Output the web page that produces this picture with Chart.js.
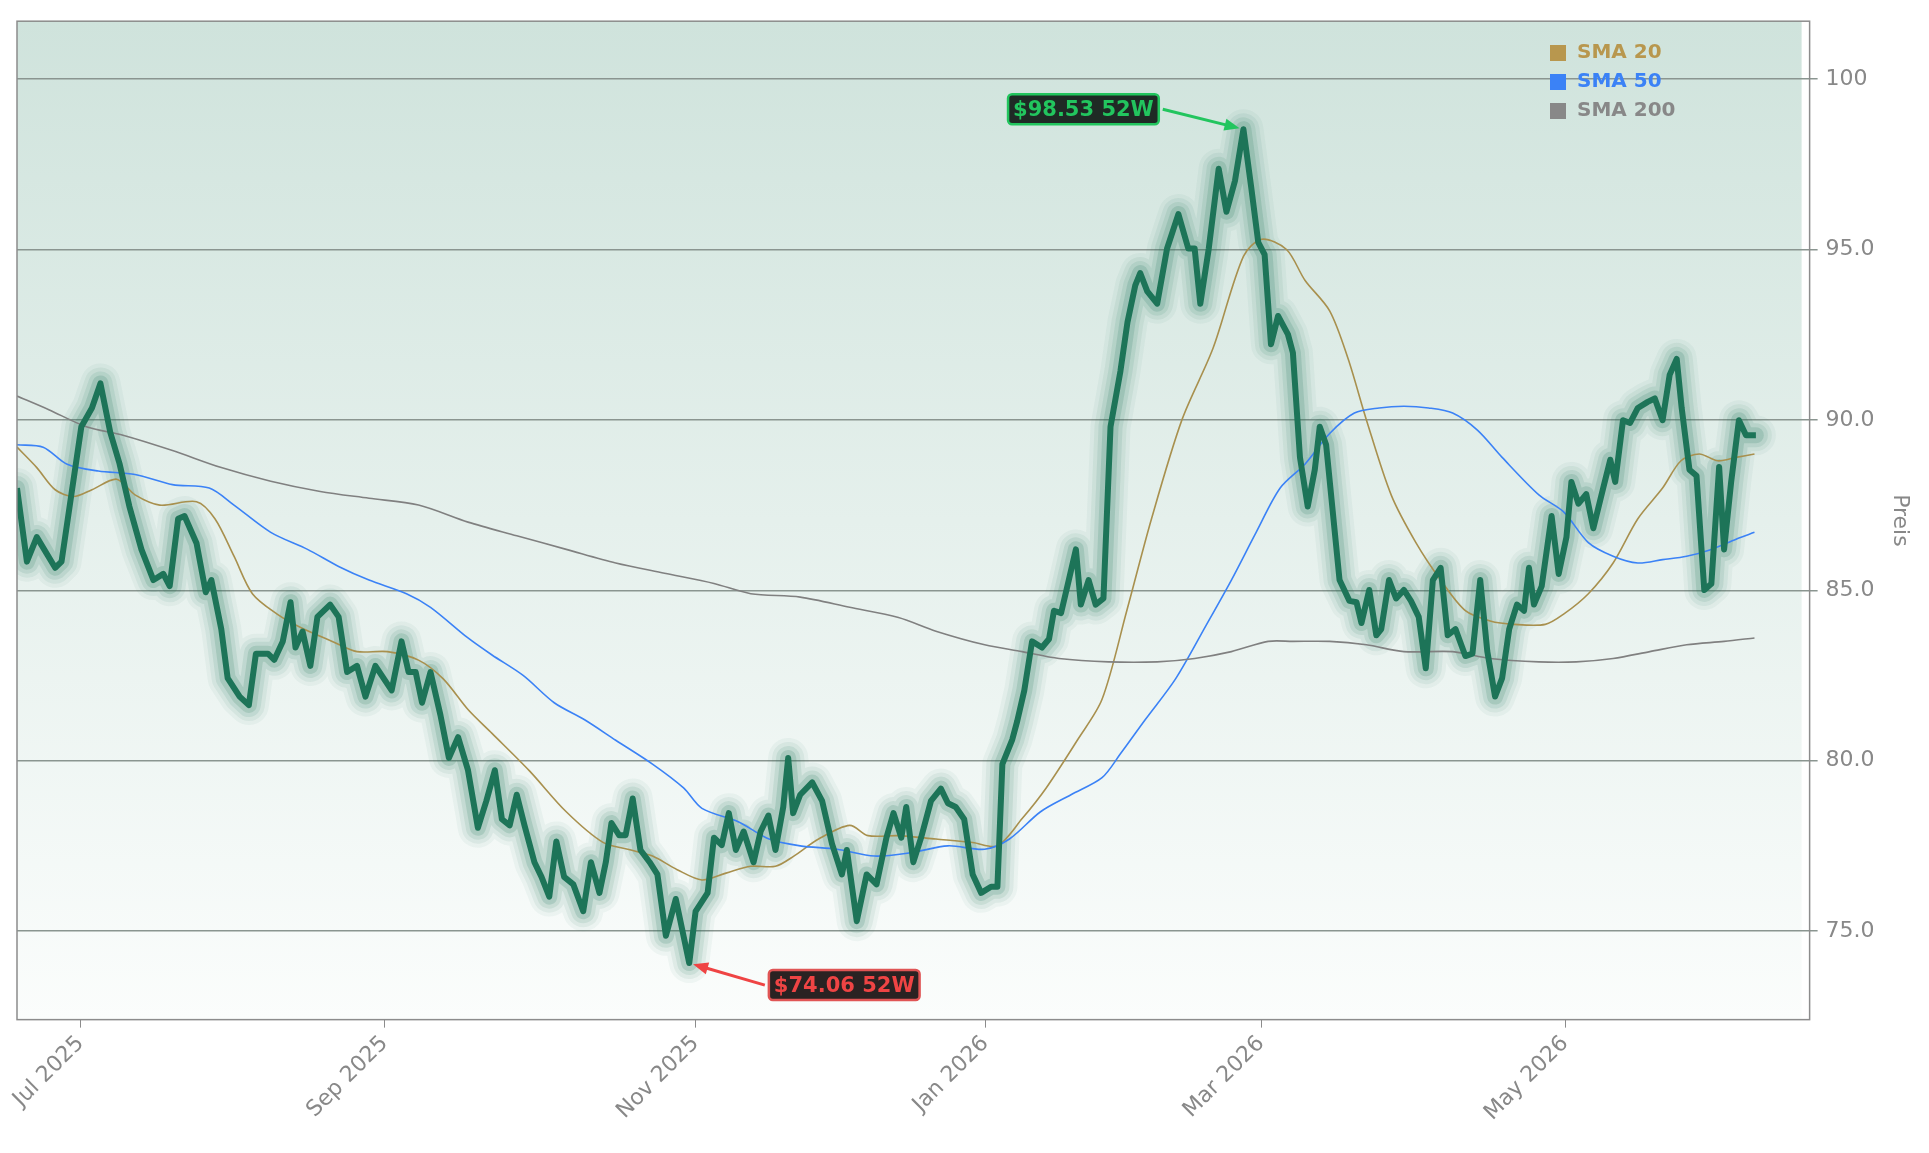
<!DOCTYPE html>
<html><head><meta charset="utf-8">
<script src="https://cdn.jsdelivr.net/npm/chart.js@4/dist/chart.umd.min.js"></script>
<style>html,body{margin:0;padding:0;background:#fff;}#wrap{width:1929px;height:1153px;}</style>
</head><body><div id="wrap"><canvas id="c"></canvas></div>
<script>
// trading calendar
const startDate = '2025-06-17';
const holidays = ['2025-06-19','2025-07-04','2025-09-01','2025-11-27','2025-12-25','2026-01-01','2026-01-19','2026-02-16','2026-04-03','2026-05-25','2026-06-19'];
const tickMonths = ['2025-07','2025-09','2025-11','2026-01','2026-03','2026-05'];
const tickLabels = ['Jul 2025','Sep 2025','Nov 2025','Jan 2026','Mar 2026','May 2026'];

// price (trading-day index, close)
const priceIdx = [0,1.4,2.8,5.4,6.3,7.7,9.1,10.6,11.8,13.2,14.5,15.9,17.6,19.3,20.7,21.6,22.8,23.7,25.4,26.7,27.5,28.9,29.8,31.5,32.8,33.8,35.5,36.4,37.6,38.7,39.4,40.4,41.5,42.5,44.3,45.5,46.7,48.1,49.3,50.7,53.0,54.4,55.4,56.4,57.3,58.5,59.9,61.1,62.4,63.8,65.2,66.4,67.6,68.6,69.7,70.7,71.8,73.2,74.2,75.3,76.3,77.4,78.7,80.1,81.2,82.4,83.3,84.1,85.2,86.1,87.1,88.2,89.5,90.6,91.8,93.2,95.1,96.0,97.7,98.6,99.7,100.7,101.7,102.8,104.2,105.2,106.3,107.3,108.4,109.1,109.8,110.8,112.5,113.9,115.3,116.7,117.4,118.8,120.2,121.6,123.0,124.0,125.1,125.8,126.8,127.9,129.3,130.7,131.7,132.8,134.0,135.2,136.4,137.8,138.7,139.4,140.8,141.5,142.5,143.6,145.0,146.0,146.7,147.7,148.8,149.8,150.5,151.6,152.6,153.7,154.7,156.1,157.1,158.2,158.9,159.9,161.3,162.7,164.3,165.7,166.6,167.4,168.6,170.0,171.1,172.3,173.5,174.6,175.6,176.5,177.4,178.4,179.8,180.5,181.5,182.6,183.6,184.3,185.2,187.1,188.5,189.5,190.2,191.3,192.3,193.0,194.1,195.1,196.2,197.2,198.3,199.3,200.3,201.4,202.4,203.5,204.9,205.9,207.0,208.0,209.1,210.1,211.1,212.2,213.2,213.9,214.6,215.7,217.1,218.1,219.2,219.9,220.9,222.0,223.0,224.4,225.4,226.1,227.2,228.2,229.3,230.7,231.7,232.8,233.8,234.8,235.5,236.6,237.6,238.7,239.7,240.8,241.5,242.5,243.6,244.6,246.0];
const priceVal = [88.0,85.84,86.56,85.66,85.84,87.82,89.8,90.35,91.07,89.63,88.72,87.46,86.2,85.3,85.48,85.12,87.1,87.18,86.38,84.94,85.3,83.86,82.42,81.88,81.63,83.14,83.14,82.96,83.5,84.65,83.32,83.79,82.78,84.22,84.58,84.22,82.6,82.78,81.88,82.78,82.06,83.5,82.6,82.6,81.7,82.6,81.34,80.08,80.69,79.72,78.03,78.82,79.72,78.28,78.1,79.0,78.1,77.02,76.59,76.01,77.63,76.59,76.37,75.58,77.02,76.12,77.02,78.17,77.81,77.81,78.89,77.38,77.02,76.66,74.86,75.94,74.06,75.58,76.12,77.74,77.52,78.46,77.38,77.92,77.02,77.92,78.39,77.38,78.64,80.08,78.46,79.0,79.36,78.82,77.56,76.66,77.38,75.29,76.66,76.37,77.74,78.46,77.74,78.64,77.02,77.74,78.82,79.18,78.75,78.64,78.28,76.66,76.12,76.3,76.3,79.9,80.62,81.16,82.06,83.5,83.32,83.57,84.4,84.33,85.3,86.2,84.58,85.3,84.58,84.76,89.8,91.43,92.87,93.95,94.31,93.77,93.41,95.03,96.04,95.03,95.03,93.41,95.03,97.37,96.11,97.01,98.53,96.83,95.21,94.85,92.22,93.05,92.51,91.97,88.9,87.46,88.54,89.8,89.27,85.3,84.69,84.65,84.04,85.01,83.68,83.86,85.3,84.76,85.01,84.69,84.22,82.71,85.3,85.66,83.68,83.86,83.07,83.14,85.3,83.21,81.88,82.42,83.86,84.58,84.4,85.66,84.58,85.12,87.18,85.48,86.56,88.18,87.54,87.82,86.82,88.0,88.83,88.18,89.99,89.91,90.35,90.53,90.63,89.99,91.32,91.79,90.35,88.54,88.36,85.01,85.19,88.62,86.2,88.18,89.99,89.55,89.55];

const sma20Idx = [0,2.8,5.4,8,10.6,14.1,16.7,20.2,25.4,28,30.7,33.3,36.8,40.2,44.6,48.1,52.4,56.8,60.3,63.8,67.2,72.5,77.7,82.9,86.4,89.9,93.4,96.9,100.3,103.8,107.3,109.9,113.4,117.8,120.4,124.7,130,135.2,138.7,142.2,145.6,150,153.5,157,160.5,164.8,169.2,173.5,176.1,179.6,182.2,185.7,188.3,190.9,194.4,197.9,201.4,204.9,208.4,211.8,216.2,218.8,222.3,225.8,229.3,232.8,235.4,238,240.6,243.2,245.8];
const sma20Val = [89.2,88.6,87.95,87.75,87.95,88.26,87.8,87.5,87.6,87.1,86.0,84.9,84.3,83.9,83.5,83.2,83.2,82.95,82.4,81.5,80.8,79.7,78.5,77.6,77.4,77.2,76.8,76.5,76.7,76.9,76.9,77.2,77.7,78.1,77.8,77.8,77.7,77.6,77.5,78.3,79.2,80.6,81.8,84.4,87.1,90.0,92.1,94.8,95.3,95.0,94.1,93.2,91.8,90.0,87.8,86.4,85.3,84.4,84.1,84.0,84.0,84.3,84.9,85.8,87.1,88.0,88.8,89.0,88.8,88.9,89.0];

const sma50Idx = [0,3.7,7.1,11.5,16.7,22,27.2,30.7,35.9,41.1,45.5,49.8,55.1,58.5,63.8,67.2,71.6,76,80.3,84.7,89.9,94.3,96.9,102.1,106.4,110.8,116,121.3,126.5,131.7,136.9,140.4,144.8,149.1,153.5,156.1,159.6,163.9,168.3,171.8,175.3,178.7,182.2,185.7,189.2,192.7,196.2,199.7,203.1,206.6,210.1,215.3,218.8,222.3,225.8,229.3,232.8,236.2,239.7,243.2,245.8];
const sma50Val = [89.27,89.2,88.7,88.5,88.4,88.1,88.0,87.5,86.7,86.2,85.7,85.3,84.9,84.5,83.6,83.1,82.5,81.7,81.2,80.6,79.9,79.2,78.6,78.2,77.7,77.5,77.4,77.2,77.3,77.5,77.4,77.7,78.5,79.0,79.5,80.2,81.2,82.4,84.0,85.3,86.7,88.0,88.7,89.6,90.2,90.35,90.4,90.35,90.2,89.7,88.9,87.8,87.3,86.4,86.0,85.8,85.9,86.0,86.2,86.5,86.7];

const sma200Idx = [0,4.5,9.8,15,22,28.9,35.9,42.9,49.8,56.8,63.8,70.7,77.7,84.7,91.6,98.6,103.8,110.8,117.8,124.7,130,136.9,142.2,147.4,154.4,161.3,166.6,171.8,177,180.5,185.7,190.9,196.2,203.1,208.4,215.3,220.6,225.8,231,236.2,241.5,245.8];
const sma200Val = [90.7,90.3,89.8,89.55,89.1,88.6,88.2,87.9,87.7,87.5,87.0,86.6,86.2,85.8,85.5,85.2,84.9,84.8,84.5,84.2,83.8,83.4,83.2,83.0,82.9,82.9,83.0,83.2,83.5,83.5,83.5,83.4,83.2,83.2,83.0,82.9,82.9,83.0,83.2,83.4,83.5,83.6];

const yTicks = [75,80,85,90,95,100];

// build trading days
const days = [];
(function(){
  let d = new Date(startDate+'T12:00:00Z');
  while (days.length < 270) {
    const s = d.toISOString().slice(0,10), wd = d.getUTCDay();
    if (wd !== 0 && wd !== 6 && !holidays.includes(s)) days.push(s);
    d.setUTCDate(d.getUTCDate()+1);
  }
})();
const tickIdx = tickMonths.map(m => days.findIndex(s => s.startsWith(m)));

const pts = (xs, ys) => xs.map((x,i)=>({x, y: ys[i]}));
const pricePts = pts(priceIdx, priceVal);

const bgPlugin = {
  id:'bg',
  beforeDraw(ch){
    const {ctx, chartArea:a} = ch;
    const g = ctx.createLinearGradient(0,a.top,0,a.bottom);
    g.addColorStop(0,'#cfe3dc'); g.addColorStop(1,'#fbfdfc');
    ctx.save(); ctx.fillStyle = g; ctx.fillRect(a.left,a.top,a.right-a.left-8,a.bottom-a.top); ctx.restore();
  },
  afterDraw(ch){
    const {ctx, chartArea:a, scales:{x,y}} = ch;
    ctx.save();
    ctx.strokeStyle='#8c8c8c'; ctx.lineWidth=1.5;
    ctx.strokeRect(a.left,a.top,a.right-a.left,a.bottom-a.top);
    // legend
    const items=[['SMA 20','#b8974e'],['SMA 50','#3b82f6'],['SMA 200','#888888']];
    ctx.font='bold 20px "DejaVu Sans"'; ctx.textBaseline='middle';
    items.forEach((it,i)=>{
      const ly = 53 + i*29;
      ctx.fillStyle=it[1]; ctx.fillRect(1550,ly-8,16,16);
      ctx.fillText(it[0],1577,ly);
    });
    // annotations
    const hiI = priceVal.indexOf(Math.max(...priceVal)), loI = priceVal.indexOf(Math.min(...priceVal));
    const ann = (i, dx, dy, txt, col, fill, border) => {
      const px = x.getPixelForValue(priceIdx[i]), py = y.getPixelForValue(priceVal[i]);
      ctx.font='bold 21px "DejaVu Sans"';
      const w = ctx.measureText(txt).width + 10, h = 30;
      const cx = px+dx, cy = py+dy;
      const sx = dx<0 ? cx + w/2 + 4 : cx - w/2 - 4;
      const ang = Math.atan2(py-cy, px-sx);
      const ex = px - Math.cos(ang)*4, ey = py - Math.sin(ang)*4;
      ctx.strokeStyle=col; ctx.fillStyle=col; ctx.lineWidth=3;
      ctx.beginPath(); ctx.moveTo(sx,cy); ctx.lineTo(ex - Math.cos(ang)*10, ey - Math.sin(ang)*10); ctx.stroke();
      ctx.beginPath(); ctx.moveTo(ex,ey);
      ctx.lineTo(ex - Math.cos(ang)*15 - Math.sin(ang)*6, ey - Math.sin(ang)*15 + Math.cos(ang)*6);
      ctx.lineTo(ex - Math.cos(ang)*15 + Math.sin(ang)*6, ey - Math.sin(ang)*15 - Math.cos(ang)*6);
      ctx.closePath(); ctx.fill();
      ctx.fillStyle=fill; ctx.strokeStyle=border; ctx.lineWidth=2.5;
      ctx.beginPath(); ctx.roundRect(cx-w/2, cy-h/2, w, h, 4); ctx.fill(); ctx.stroke();
      ctx.fillStyle=col; ctx.textAlign='center'; ctx.fillText(txt,cx,cy+1);
      ctx.textAlign='left';
    };
    ann(hiI,-160,-20,'$98.53 52W','#22c55e','#1f2a25','#22c55e');
    ann(loI,155,22,'$74.06 52W','#ef4444','#2a2222','#e05555');
    ctx.restore();
  }
};

const glow = (w,a) => ({data: pricePts, borderColor:`rgba(30,120,90,${a})`, borderWidth:w, pointRadius:0, tension:0, borderJoinStyle:'round', borderCapStyle:'round', order:10});
new Chart(document.getElementById('c'), {
  type:'line',
  data:{datasets:[
    {label:'SMA 200', data: pts(sma200Idx,sma200Val), borderColor:'#808080', borderWidth:1.6, pointRadius:0, tension:0.3, order:2},
    {label:'SMA 50', data: pts(sma50Idx,sma50Val), borderColor:'#3b82f6', borderWidth:1.6, pointRadius:0, tension:0.3, order:2},
    {label:'SMA 20', data: pts(sma20Idx,sma20Val), borderColor:'#a8904e', borderWidth:1.6, pointRadius:0, tension:0.3, order:2},
    glow(40,0.05), glow(32,0.07), glow(24,0.1), glow(16,0.16),
    {label:'Preis', data: pricePts, borderColor:'#1d7458', borderWidth:6, pointRadius:0, tension:0, borderJoinStyle:'round', order:1},
  ]},
  options:{
    responsive:true, maintainAspectRatio:false, animation:false,
    layout:{padding:{left:17,top:17,right:12,bottom:24}},
    plugins:{legend:{display:false}, tooltip:{enabled:false}},
    scales:{
      x:{type:'linear', min:0, max:253.6,
        afterBuildTicks(ax){ ax.ticks = tickIdx.map(v=>({value:v})); },
        ticks:{callback:(v)=>tickLabels[tickIdx.indexOf(v)] ?? '', color:'#888', font:{size:22, family:'DejaVu Sans'}, maxRotation:45, minRotation:45, autoSkip:false},
        grid:{display:true, drawOnChartArea:false, tickLength:8, color:'#8c8c8c'}, border:{display:false}},
      y:{position:'right', min:72.4, max:101.7,
        afterBuildTicks(ax){ ax.ticks = yTicks.map(v=>({value:v})); },
        ticks:{callback:(v)=> v===100 ? '100' : v.toFixed(1), color:'#888', font:{size:22, family:'DejaVu Sans'}, padding:8},
        grid:{color:'#8a9590', lineWidth:1.5, tickLength:8},
        border:{display:false},
        title:{display:true, text:'Preis', color:'#888', font:{size:22, family:'DejaVu Sans'}}}
    }
  },
  plugins:[bgPlugin]
});
</script></body></html>
